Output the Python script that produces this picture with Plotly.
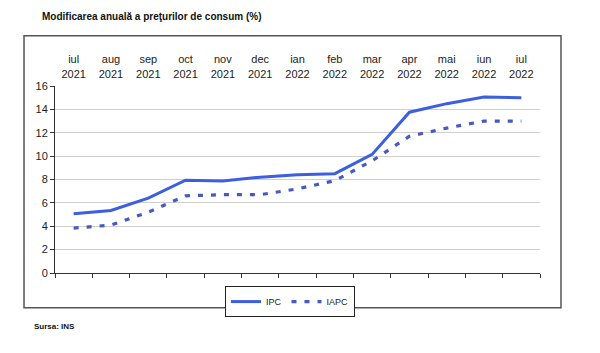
import plotly.graph_objects as go

months = ["iul", "aug", "sep", "oct", "nov", "dec", "ian", "feb", "mar", "apr", "mai", "iun", "iul"]
years = ["2021"] * 6 + ["2022"] * 7
labels = [f"{m}<br>{y}" for m, y in zip(months, years)]
ipc = [5.06, 5.35, 6.4, 7.94, 7.87, 8.2, 8.41, 8.5, 10.15, 13.76, 14.49, 15.05, 15.0]
iapc = [3.84, 4.1, 5.2, 6.6, 6.7, 6.7, 7.2, 7.9, 9.6, 11.7, 12.4, 13.0, 13.0]
yticks = [0, 2, 4, 6, 8, 10, 12, 14, 16]

fig = go.Figure()
fig.add_trace(go.Scatter(x=labels, y=ipc, mode="lines", name="IPC",
                         line=dict(color="#3b5fe0", width=3)))
fig.add_trace(go.Scatter(x=labels, y=iapc, mode="lines", name="IAPC",
                         line=dict(color="#4659c4", width=3.2, dash="5px,8px")))
fig.add_trace(go.Scatter(x=labels, y=ipc, mode="lines", xaxis="x2", showlegend=False,
                         line=dict(width=0), opacity=0, hoverinfo="skip"))

font_main = "Liberation Sans, Arial, sans-serif"
fig.update_layout(
    width=600, height=353,
    margin=dict(l=55, r=60, t=86, b=80),
    paper_bgcolor="white", plot_bgcolor="white",
    font=dict(family=font_main, size=11, color="#222"),
    xaxis=dict(type="category", categoryarray=labels, range=[-0.5, 12.5],
               showticklabels=False, ticks="outside", tickson="boundaries",
               ticklen=4, tickcolor="#333", showline=True, linecolor="#333",
               linewidth=1, showgrid=False, zeroline=False),
    xaxis2=dict(type="category", categoryarray=labels, range=[-0.5, 12.5],
                overlaying="x", side="top", showline=False, ticks="outside",
                ticklen=3, tickcolor="rgba(0,0,0,0)",
                showgrid=False, zeroline=False,
                tickfont=dict(size=11, color="#222")),
    yaxis=dict(range=[0, 16], tickvals=yticks, showgrid=True, gridcolor="#cfcfcf",
               gridwidth=1, ticks="outside", ticklen=4, tickcolor="#333",
               showline=True, linecolor="#333", linewidth=1, zeroline=False,
               tickfont=dict(size=11, color="#222")),
    legend=dict(orientation="h", x=0.4845, xanchor="center", y=-0.07, yanchor="top",
                bordercolor="#222", borderwidth=1, font=dict(size=9),
                itemwidth=30, tracegroupgap=0),
    showlegend=True,
)

fig.add_shape(type="rect", xref="paper", yref="paper",
              x0=-0.0639, x1=1.0433, y0=-0.1853, y1=1.2686,
              line=dict(color="#555", width=1.5), layer="below")

fig.add_annotation(text="<b>Modificarea anuală a preţurilor de consum (%)</b>",
                   xref="paper", yref="paper", x=(40 - 55) / 485, y=(273.3 - 16) / 187.3,
                   xanchor="left", yanchor="middle", showarrow=False,
                   font=dict(size=10, color="#111", family=font_main))
fig.add_annotation(text="<b>Sursa: INS</b>",
                   xref="paper", yref="paper", x=(32 - 55) / 485, y=(273.3 - 327) / 187.3,
                   xanchor="left", yanchor="middle", showarrow=False,
                   font=dict(size=8, color="#111", family=font_main))

fig.write_html("out.html")
